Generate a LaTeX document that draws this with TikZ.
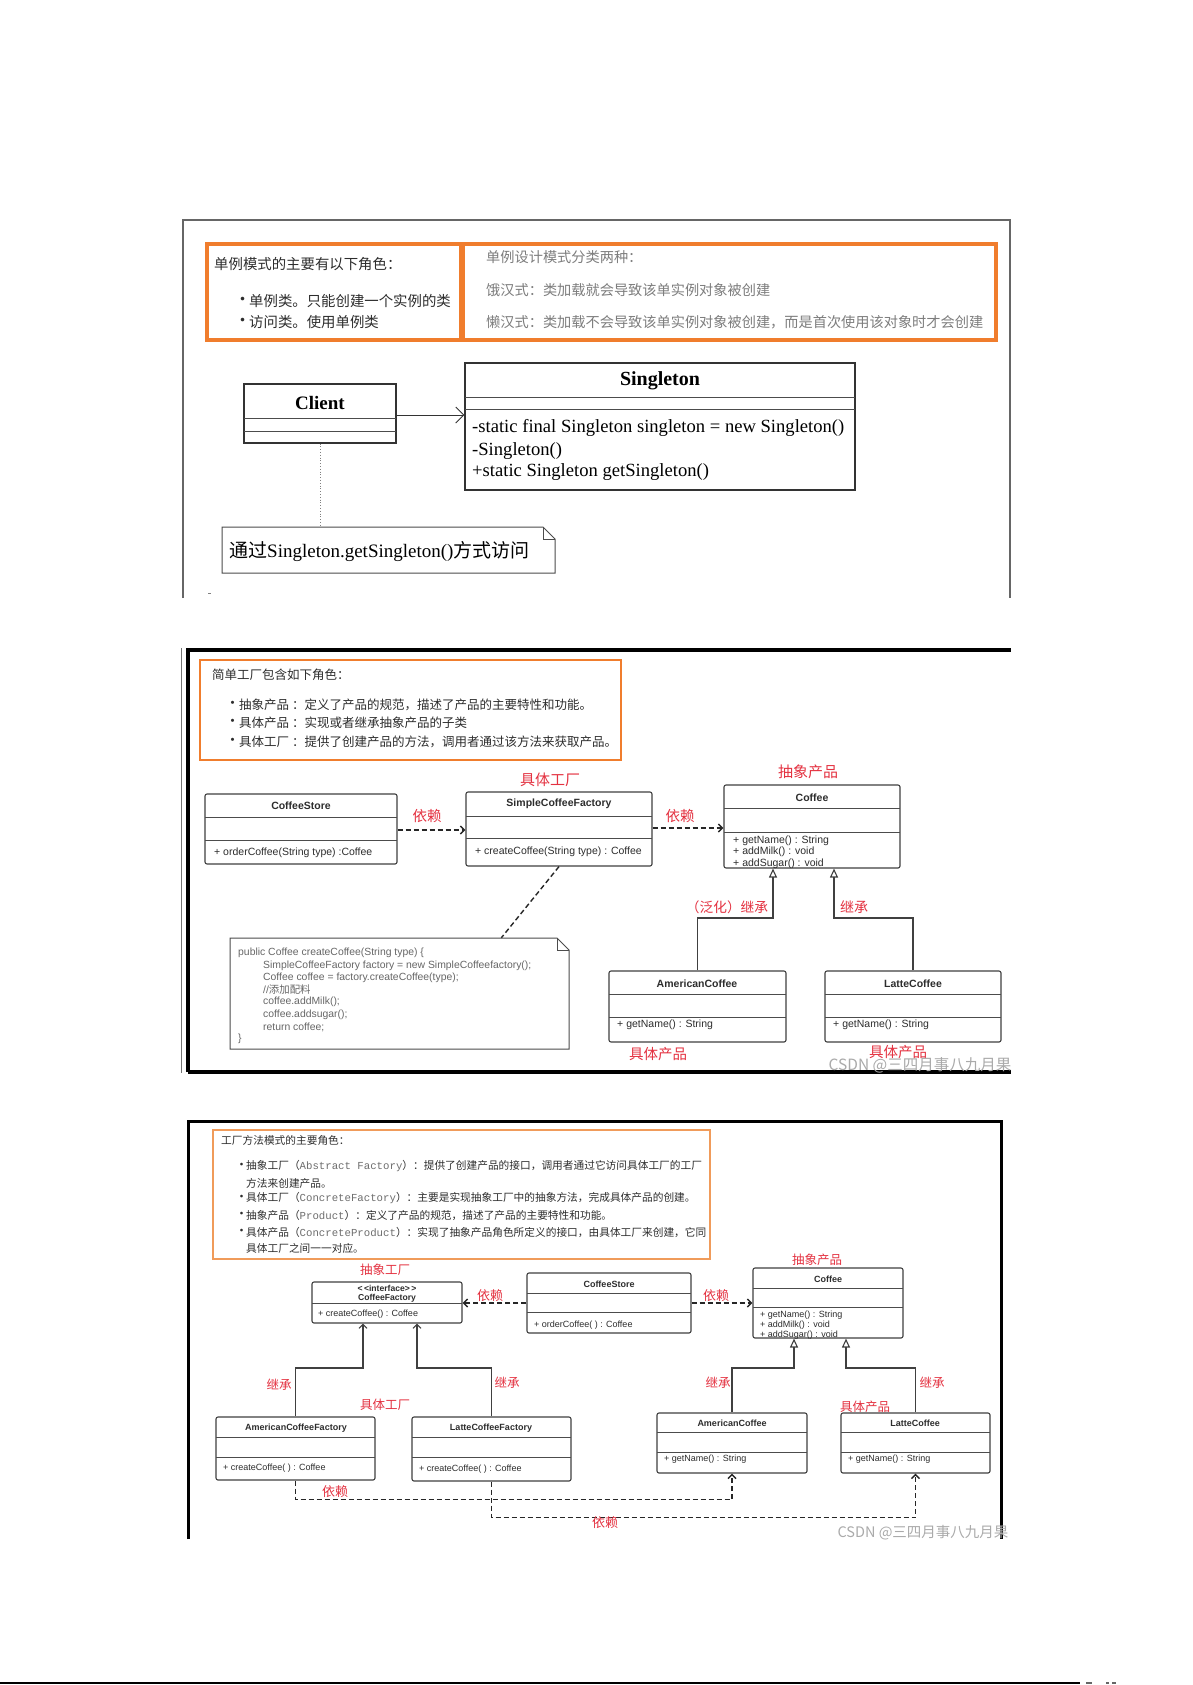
\documentclass[tikz,border=0pt]{standalone}
\usepackage{fontspec}
\setmainfont{Liberation Sans}
\newfontfamily\cjk{Noto Sans CJK SC}
\newfontfamily\serf{Liberation Serif}
\newfontfamily\monof{Liberation Mono}
\usetikzlibrary{arrows.meta,fit,calc}
\newcommand{\fsz}[1]{\fontsize{#1}{#1}\selectfont}
\definecolor{orangeA}{RGB}{240,125,45}
\definecolor{orangeB}{RGB}{240,155,90}
\definecolor{redL}{RGB}{228,50,65}
\definecolor{grayT}{RGB}{125,125,125}
\definecolor{darkT}{RGB}{45,45,45}
\definecolor{monoT}{RGB}{110,110,110}
\definecolor{wm}{RGB}{170,170,170}
\tikzset{
  txt/.style={inner sep=0pt, anchor=west, text=darkT},
  ctr/.style={inner sep=0pt, anchor=center, text=darkT},
  redlab/.style={inner sep=0pt, anchor=center, text=redL, font=\cjk\fsz{#1}},
  boxsq/.style={draw=black!80, line width=1.1pt, inner sep=0pt},
  boxrd/.style={draw=black!75, line width=1.1pt, rounded corners=2pt, inner sep=0pt},
  divline/.style={draw=black!70, line width=1pt},
  noteline/.style={draw=black!70, line width=1pt},
  dep/.style={draw=black!85, line width=1.4pt, dash pattern=on 5pt off 3pt,
     -{Straight Barb[length=4pt,width=8pt]}},
  inh/.style={draw=black!75, line width=1.1pt, -{Triangle[open,length=9pt,width=8pt]}},
  inhv/.style={draw=black!75, line width=1.1pt, -{Straight Barb[length=4pt,width=8pt]}},
}
\newcommand{\umlbox}[8]{%
  \node[#8, fit={(#2,#3)(#4,#5)}] (#1) {};
  \draw[divline] (#2,#6) -- (#4,#6);
  \draw[divline] (#2,#7) -- (#4,#7);}
\newcommand{\notebox}[6]{%
  \node[inner sep=0pt, fit={(#2,#3)(#4,#5)}] (#1) {};
  \draw[noteline] (#2,#3) -- ({#4-#6},#3) -- (#4,{#3+#6}) -- (#4,#5) -- (#2,#5) -- cycle;
  \draw[noteline] ({#4-#6},#3) -- ({#4-#6},{#3+#6}) -- (#4,{#3+#6});}
\begin{document}
\begin{tikzpicture}[x=1pt,y=-1pt]
\useasboundingbox (0,0) rectangle (1192,1685);
\fill[white] (0,0) rectangle (1192,1685);

%% ================= Panel 1 =================
\draw[black!60, line width=1.2pt] (183,598) -- (183,220) -- (1010,220) -- (1010,598);
\draw[black!50, line width=1pt] (208,593) -- (211,593);
\draw[orangeA, line width=3.5pt] (207,244) rectangle (461,340);
\draw[orangeA, line width=3.5pt] (463,244) rectangle (996,340);
\node[txt] (p1a) at (214,264) {\cjk\fsz{14.4}单例模式的主要有以下角色：};
\node[txt] (p1b1) at (234,301) {\cjk\fsz{17}•};
\node[txt] (p1b) at (249,301) {\cjk\fsz{14.4}单例类。只能创建一个实例的类};
\node[txt] (p1c1) at (234,322) {\cjk\fsz{17}•};
\node[txt] (p1c) at (249,322) {\cjk\fsz{14.4}访问类。使用单例类};
\node[txt, text=grayT] (p1d) at (486,257) {\cjk\fsz{14.2}单例设计模式分类两种：};
\node[txt, text=grayT] (p1e) at (486,290) {\cjk\fsz{14.2}饿汉式：类加载就会导致该单实例对象被创建};
\node[txt, text=grayT] (p1f) at (486,322) {\cjk\fsz{14.2}懒汉式：类加载不会导致该单实例对象被创建，而是首次使用该对象时才会创建};

\umlbox{client}{244}{384}{396}{443}{418}{431}{boxsq}
\umlbox{single}{465}{363}{855}{490}{397}{409}{boxsq}
\node[ctr, text=black] (clientn) at (320,403) {\serf\bfseries\fsz{19}Client};
\node[ctr, text=black] (singlen) at (660,381) {\serf\bfseries\fsz{20}Singleton};
\node[txt, text=black] (sm1) at (472,428) {\serf\fsz{18.6}-static final Singleton singleton = new Singleton()};
\node[txt, text=black] (sm2) at (472,451) {\serf\fsz{18.6}-Singleton()};
\node[txt, text=black] (sm3) at (472,472) {\serf\fsz{18.6}+static Singleton getSingleton()};
\draw[black!80, line width=1pt, -{Straight Barb[length=8pt,width=16pt]}] (client.east |- 0,415) -- (single.west |- 0,415);
\notebox{note1}{222}{527}{555}{573}{12}
\draw[black!50, line width=0.8pt, dotted] (client.south) -- (client.south |- note1.north);
\node[txt, text=black] (note1t) at (229,552) {\fsz{19}{\cjk 通过}{\serf Singleton.getSingleton()}{\cjk 方式访问}};

%% ================= Panel 2 =================
\draw[black!55, line width=1pt] (181,648) -- (181,1073);
\draw[black, line width=3.5pt] (188,1072) -- (188,650) -- (1011,650);
\draw[black, line width=3.5pt] (188,1072) -- (1011,1072);
\draw[orangeA, line width=2.5pt] (200,660) rectangle (621,760);
\node[txt] (p2a) at (212,675) {\cjk\fsz{12.5}简单工厂包含如下角色：};
\node[txt] (p2b1) at (225,705) {\cjk\fsz{15}•};
\node[txt] (p2b) at (239,705) {\cjk\fsz{12.5}抽象产品 ：定义了产品的规范，描述了产品的主要特性和功能。};
\node[txt] (p2c1) at (225,723) {\cjk\fsz{15}•};
\node[txt] (p2c) at (239,723) {\cjk\fsz{12.5}具体产品 ：实现或者继承抽象产品的子类};
\node[txt] (p2d1) at (225,742) {\cjk\fsz{15}•};
\node[txt] (p2d) at (239,742) {\cjk\fsz{12.5}具体工厂 ：提供了创建产品的方法，调用者通过该方法来获取产品。};

\umlbox{cs2}{205}{794}{397}{864}{817}{840}{boxrd}
\umlbox{scf}{466}{792}{652}{866}{816}{838}{boxrd}
\umlbox{cof2}{724}{785}{900}{868}{808}{832}{boxrd}
\umlbox{am2}{609}{971}{786}{1042}{994}{1017}{boxrd}
\umlbox{la2}{825}{971}{1001}{1042}{994}{1017}{boxrd}
\node[ctr] (cs2n) at (301,806) {\bfseries\fsz{10.5}CoffeeStore};
\node[txt] (cs2m) at (214,853) {\fsz{10.5}+ orderCoffee(String type) :Coffee};
\node[ctr] (scfn) at (559,804) {\bfseries\fsz{10.5}SimpleCoffeeFactory};
\node[txt] (scfm) at (475,852) {\fsz{10.5}+ createCoffee(String type) : Coffee};
\node[ctr] (cof2n) at (812,798) {\bfseries\fsz{10.5}Coffee};
\node[txt] (cof2a) at (733,841) {\fsz{10.5}+ getName() : String};
\node[txt] (cof2b) at (733,852) {\fsz{10.5}+ addMilk() : void};
\node[txt] (cof2c) at (733,864) {\fsz{10.5}+ addSugar() : void};
\node[ctr] (am2n) at (697,984) {\bfseries\fsz{10.5}AmericanCoffee};
\node[txt] (am2m) at (617,1025) {\fsz{10.5}+ getName() : String};
\node[ctr] (la2n) at (913,984) {\bfseries\fsz{10.5}LatteCoffee};
\node[txt] (la2m) at (833,1025) {\fsz{10.5}+ getName() : String};

\draw[dep] (cs2.east |- 0,830) -- (scf.west |- 0,830);
\draw[dep] (scf.east |- 0,828) -- (cof2.west |- 0,828);
\notebox{note2}{230}{938}{569}{1049}{12}
\draw[black!85, line width=1.4pt, dash pattern=on 5pt off 3pt] (scf.south) -- ($(note2.north west)!0.8!(note2.north east)$);
\draw[inh] (am2.north) |- (773,918) -- (cof2.south -| 773,0);
\draw[inh] (la2.north) |- (834,918) -- (cof2.south -| 834,0);

\node[txt, text=black!60] (c1) at (238,953) {\fsz{10.4}public Coffee  createCoffee(String type) \{};
\node[txt, text=black!60] (c2) at (263,966) {\fsz{10.4}SimpleCoffeeFactory factory = new SimpleCoffeefactory();};
\node[txt, text=black!60] (c3) at (263,978) {\fsz{10.4}Coffee coffee = factory.createCoffee(type);};
\node[txt, text=black!60] (c4) at (263,990) {\fsz{10.4}//{\cjk 添加配料}};
\node[txt, text=black!60] (c5) at (263,1002) {\fsz{10.4}coffee.addMilk();};
\node[txt, text=black!60] (c6) at (263,1015) {\fsz{10.4}coffee.addsugar();};
\node[txt, text=black!60] (c7) at (263,1027) {\fsz{10.4}return coffee;};
\node[txt, text=black!60] (c8) at (238,1039) {\fsz{10.4}\}};

\node[redlab=15] (r1) at (550,780) {具体工厂};
\node[redlab=15] (r2) at (808,772) {抽象产品};
\node[redlab=14.5] (r3) at (427,816) {依赖};
\node[redlab=14.5] (r4) at (680,816) {依赖};
\node[redlab=13.7] (r5) at (727,907) {（泛化）继承};
\node[redlab=14] (r6) at (854,907) {继承};
\node[redlab=14.5] (r7) at (658,1054) {具体产品};
\node[redlab=14.5] (r8) at (898,1052) {具体产品};
\node[ctr, text=wm] (wm1) at (920,1065) {\cjk\fsz{15.5}CSDN @三四月事八九月果};

%% ================= Panel 3 =================
\draw[black, line width=3pt] (188,1539) -- (188,1121) -- (1001,1121) -- (1001,1539);
\draw[orangeB, line width=2pt] (213,1130) rectangle (710,1259);
\node[txt] (p3a) at (221,1140) {\cjk\fsz{10.7}工厂方法模式的主要角色：};
\node[txt] (p3b1) at (235,1166) {\cjk\fsz{13}•};
\node[txt] (p3b) at (246,1166) {\fsz{10.7}{\cjk 抽象工厂（}{\monof\color{monoT}Abstract Factory}{\cjk ）：提供了创建产品的接口，调用者通过它访问具体工厂的工厂}};
\node[txt] (p3c) at (246,1183) {\cjk\fsz{10.7}方法来创建产品。};
\node[txt] (p3d1) at (235,1198) {\cjk\fsz{13}•};
\node[txt] (p3d) at (246,1198) {\fsz{10.7}{\cjk 具体工厂（}{\monof\color{monoT}ConcreteFactory}{\cjk ）：主要是实现抽象工厂中的抽象方法，完成具体产品的创建。}};
\node[txt] (p3e1) at (235,1215) {\cjk\fsz{13}•};
\node[txt] (p3e) at (246,1215) {\fsz{10.7}{\cjk 抽象产品（}{\monof\color{monoT}Product}{\cjk ）：定义了产品的规范，描述了产品的主要特性和功能。}};
\node[txt] (p3f1) at (235,1232) {\cjk\fsz{13}•};
\node[txt] (p3f) at (246,1232) {\fsz{10.7}{\cjk 具体产品（}{\monof\color{monoT}ConcreteProduct}{\cjk ）：实现了抽象产品角色所定义的接口，由具体工厂来创建，它同}};
\node[txt] (p3g) at (246,1248) {\cjk\fsz{10.7}具体工厂之间一一对应。};

\umlbox{cf3}{312}{1282}{462}{1323}{1303}{1303}{boxrd}
\umlbox{cs3}{527}{1273}{691}{1333}{1293}{1312}{boxrd}
\umlbox{cof3}{753}{1268}{903}{1338}{1288}{1307}{boxrd}
\umlbox{acf}{216}{1417}{375}{1480}{1437}{1457}{boxrd}
\umlbox{lcf}{412}{1417}{571}{1481}{1437}{1457}{boxrd}
\umlbox{am3}{657}{1413}{807}{1473}{1432}{1452}{boxrd}
\umlbox{la3}{841}{1413}{990}{1473}{1432}{1452}{boxrd}

\node[ctr] (cf3i) at (387,1288) {\bfseries\fsz{8.6}<\,<interface>\,>};
\node[ctr] (cf3n) at (387,1298) {\bfseries\fsz{8.6}CoffeeFactory};
\node[txt] (cf3m) at (318,1314) {\fsz{9}+ createCoffee() : Coffee};
\node[ctr] (cs3n) at (609,1284) {\bfseries\fsz{9}CoffeeStore};
\node[txt] (cs3m) at (534,1325) {\fsz{9}+ orderCoffee( ) : Coffee};
\node[ctr] (cof3n) at (828,1279) {\bfseries\fsz{9}Coffee};
\node[txt] (cof3a) at (760,1315) {\fsz{9}+ getName() : String};
\node[txt] (cof3b) at (760,1325) {\fsz{9}+ addMilk() : void};
\node[txt] (cof3c) at (760,1335) {\fsz{9}+ addSugar() : void};
\node[ctr] (acfn) at (296,1428) {\bfseries\fsz{9}AmericanCoffeeFactory};
\node[txt] (acfm) at (223,1468) {\fsz{9}+ createCoffee( ) : Coffee};
\node[ctr] (lcfn) at (491,1428) {\bfseries\fsz{9}LatteCoffeeFactory};
\node[txt] (lcfm) at (419,1469) {\fsz{9}+ createCoffee( ) : Coffee};
\node[ctr] (am3n) at (732,1423) {\bfseries\fsz{9}AmericanCoffee};
\node[txt] (am3m) at (664,1459) {\fsz{9}+ getName() : String};
\node[ctr] (la3n) at (915,1423) {\bfseries\fsz{9}LatteCoffee};
\node[txt] (la3m) at (848,1459) {\fsz{9}+ getName() : String};

\draw[dep] (cs3.west |- 0,1303) -- (cf3.east |- 0,1303);
\draw[dep] (cs3.east |- 0,1303) -- (cof3.west |- 0,1303);
\draw[inhv] (acf.north) |- (363,1368) -- (cf3.south -| 363,0);
\draw[inhv] (lcf.north) |- (417,1368) -- (cf3.south -| 417,0);
\draw[inh] (am3.north) |- (794,1368) -- (cof3.south -| 794,0);
\draw[inh] (la3.north) |- (846,1368) -- (cof3.south -| 846,0);
\draw[dep] (acf.south) |- ($(am3.south)+(0,26)$) -- (am3.south);
\draw[dep] (lcf.south) |- ($(la3.south)+(0,44)$) -- (la3.south);

\node[redlab=12.5] (s1) at (385,1270) {抽象工厂};
\node[redlab=13] (s2) at (490,1296) {依赖};
\node[redlab=13] (s3) at (716,1296) {依赖};
\node[redlab=12.5] (s4) at (817,1260) {抽象产品};
\node[redlab=12.5] (s5) at (279,1385) {继承};
\node[redlab=12.5] (s6) at (507,1383) {继承};
\node[redlab=12.5] (s7) at (385,1405) {具体工厂};
\node[redlab=12.5] (s8) at (718,1383) {继承};
\node[redlab=12.5] (s9) at (932,1383) {继承};
\node[redlab=12.5] (s10) at (865,1407) {具体产品};
\node[redlab=13] (s11) at (335,1492) {依赖};
\node[redlab=13] (s12) at (605,1523) {依赖};
\node[ctr, text=wm] (wm2) at (923,1533) {\cjk\fsz{14.5}CSDN @三四月事八九月果};

%% bottom rule
\draw[black, line width=2pt] (0,1683) -- (1080,1683);
\draw[black!60, line width=1.5pt] (1086,1683) -- (1092,1683);
\draw[black!60, line width=1.5pt] (1106,1683) -- (1109,1683);
\draw[black!60, line width=1.5pt] (1112,1683) -- (1116,1683);
\end{tikzpicture}
\end{document}
